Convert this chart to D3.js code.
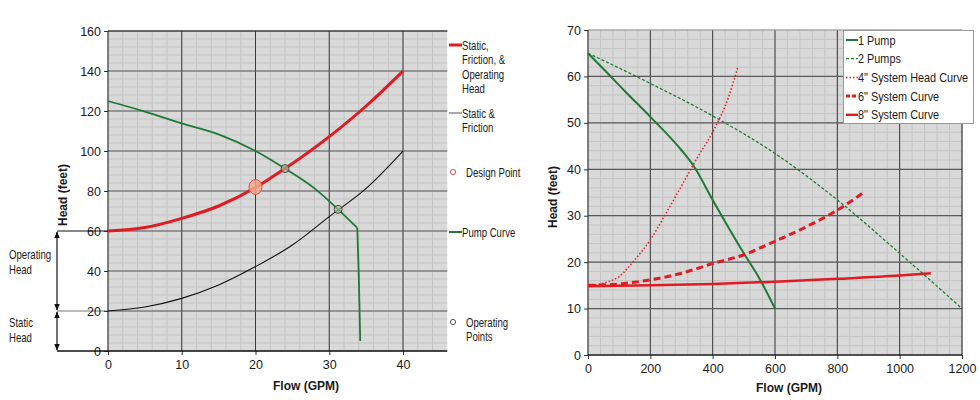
<!DOCTYPE html>
<html>
<head>
<meta charset="utf-8">
<script src="https://cdn.jsdelivr.net/npm/d3@7"></script>
<style>
  body { margin: 0; background: #fff; }
  svg text { font-family: 'Liberation Sans', Arial, sans-serif; fill: #1a1a1a; }
</style>
</head>
<body>
<script>
// ---- left chart data (flow GPM, head ft) ----
const leftXTicks = [0, 10, 20, 30, 40]
const leftYTicks = [0, 20, 40, 60, 80, 100, 120, 140, 160]
const totalHeadCurve = [[0, 60], [5, 61.7], [10, 66.3], [15, 72.5], [20, 81.7], [24, 91.2], [30, 107.2], [35, 122.5], [40, 140]]
const staticFrictionCurve = [[0, 20], [5, 22], [10, 26.3], [15, 33], [20, 42.2], [25, 53], [30, 67.2], [35, 81.3], [40, 100]]
const pumpCurve = [[0, 125], [5, 119.7], [10, 113.8], [15, 108.3], [20, 100], [24, 91.2], [28, 81.3], [31.2, 70.8], [33.8, 61.5], [34.0, 40], [34.2, 5]]
const designPoint = [[20, 82]]
const operatingPoints = [[24, 91.2], [31.2, 70.8]]
const leftLegend = [
  { type: 'line', color: '#e11b22', width: 3, lines: ['Static,', 'Friction, &', 'Operating', 'Head'] },
  { type: 'line', color: '#555', width: 1, lines: ['Static &', 'Friction'] },
  { type: 'dot', color: '#e04848', lines: ['Design Point'] },
  { type: 'line', color: '#1e7a34', width: 2, lines: ['Pump Curve'] },
  { type: 'dot', color: '#555', lines: ['Operating', 'Points'] }
]

// ---- right chart data ----
const rightXTicks = [0, 200, 400, 600, 800, 1000, 1200]
const rightYTicks = [0, 10, 20, 30, 40, 50, 60, 70]
const onePump = [[0, 65], [60, 60.9], [120, 56.7], [200, 51.3], [300, 44.1], [340, 40.6], [400, 33.4], [500, 21.9], [550, 16.5], [600, 10]]
const twoPumps = [[0, 65], [200, 58.5], [400, 51.5], [600, 43.4], [800, 33.4], [1000, 21.9], [1200, 10]]
const fourInch = [[0, 15], [50, 15.5], [100, 16.9], [150, 20.5], [200, 24.8], [250, 30.5], [300, 36.4], [350, 42.4], [400, 48], [450, 55.4], [480, 61.8]]
const sixInch = [[0, 15], [100, 15.3], [200, 16.2], [300, 17.6], [400, 19.7], [500, 21.6], [600, 24.5], [700, 27.6], [800, 31.2], [880, 34.8]]
const eightInch = [[0, 14.8], [200, 15], [400, 15.3], [600, 15.8], [800, 16.4], [1000, 17.1], [1100, 17.6]]
const rightSeries = [
  { name: '1 Pump', data: onePump, color: '#1e7a34', width: 2, dash: null },
  { name: '2 Pumps', data: twoPumps, color: '#1e7a34', width: 1.3, dash: '3,2' },
  { name: '4" System Head Curve', data: fourInch, color: '#e11b22', width: 1.5, dash: '1.5,2' },
  { name: '6" System Curve', data: sixInch, color: '#e11b22', width: 3, dash: '7,4' },
  { name: '8" System Curve', data: eightInch, color: '#e11b22', width: 2.5, dash: null }
]

const W = 980, H = 400
const svg = d3.select('body').append('svg').attr('width', W).attr('height', H)

function drawGrid(g, x, y, xMinor, yMinor, xMajor, yMajor) {
  const [x0, x1] = x.range(), [y0, y1] = y.range()
  g.append('rect').attr('x', x0).attr('y', y1).attr('width', x1 - x0).attr('height', y0 - y1).attr('fill', '#d9d9d9')
  g.selectAll('.vmin').data(xMinor).enter().append('line')
    .attr('x1', d => x(d)).attr('x2', d => x(d)).attr('y1', y0).attr('y2', y1)
    .attr('stroke', '#c4c4c4').attr('stroke-width', 1)
  g.selectAll('.hmin').data(yMinor).enter().append('line')
    .attr('y1', d => y(d)).attr('y2', d => y(d)).attr('x1', x0).attr('x2', x1)
    .attr('stroke', '#c4c4c4').attr('stroke-width', 1)
  g.selectAll('.vmaj').data(xMajor).enter().append('line')
    .attr('x1', d => x(d)).attr('x2', d => x(d)).attr('y1', y0).attr('y2', y1)
    .attr('stroke', '#3a3a3a').attr('stroke-width', 1)
  g.selectAll('.hmaj').data(yMajor).enter().append('line')
    .attr('y1', d => y(d)).attr('y2', d => y(d)).attr('x1', x0).attr('x2', x1)
    .attr('stroke', '#5a5a5a').attr('stroke-width', 1.2)
}

function axisStyle(g) {
  g.select('.domain').remove()
  g.selectAll('line').attr('stroke', '#333')
  g.selectAll('text').style('font-size', '12.5px').attr('fill', '#1a1a1a')
}

// condensed-looking text: scale glyphs horizontally
function narrowText(g, x, y, t, size, sx) {
  return g.append('text').attr('transform', `translate(${x},${y}) scale(${sx},1)`)
    .style('font-size', size + 'px').text(t)
}

// ================= LEFT CHART =================
const xL = d3.scaleLinear().domain([0, 46]).range([108, 108 + 46 * 7.375])
const yL = d3.scaleLinear().domain([0, 160]).range([351, 31])
const left = svg.append('g')

drawGrid(left, xL, yL,
  d3.range(0, 46, 2), d3.range(0, 161, 4),
  leftXTicks.slice(1), leftYTicks.slice(1))

// extension lines for annotations
const extX = 57
;[60, 20].forEach(v => {
  left.append('line').attr('x1', extX).attr('x2', xL(0)).attr('y1', yL(v)).attr('y2', yL(v))
    .attr('stroke', v === 60 ? '#111' : '#777').attr('stroke-width', 1)
})

// axes
left.append('g').attr('transform', `translate(${xL(0)},0)`)
  .call(d3.axisLeft(yL).tickValues(leftYTicks).tickSize(4).tickPadding(3)).call(axisStyle)
left.append('g').attr('transform', `translate(0,${yL(0)})`)
  .call(d3.axisBottom(xL).tickValues(leftXTicks).tickSize(4).tickPadding(5)).call(axisStyle)
left.append('line').attr('x1', xL(0)).attr('x2', xL(0)).attr('y1', yL(0)).attr('y2', yL(160)).attr('stroke', '#222')
left.append('line').attr('x1', extX).attr('x2', xL.range()[1]).attr('y1', yL(0)).attr('y2', yL(0)).attr('stroke', '#111').attr('stroke-width', 1.3)
left.append('line').attr('x1', xL(0)).attr('x2', xL.range()[1]).attr('y1', yL(160)).attr('y2', yL(160)).attr('stroke', '#333')

// arrows
const defs = svg.append('defs')
defs.append('marker').attr('id', 'arr').attr('viewBox', '0 0 10 10').attr('refX', 9).attr('refY', 5)
  .attr('markerWidth', 6).attr('markerHeight', 7).attr('orient', 'auto-start-reverse')
  .append('path').attr('d', 'M0,1 L10,5 L0,9 z').attr('fill', '#111')
;[[60, 20], [20, 0]].forEach(([a, b]) => {
  left.append('line').attr('x1', extX).attr('x2', extX).attr('y1', yL(a) + 1).attr('y2', yL(b) - 1)
    .attr('stroke', '#111').attr('stroke-width', 1.2)
    .attr('marker-start', 'url(#arr)').attr('marker-end', 'url(#arr)')
})
;[['Operating', 259], ['Head', 274], ['Static', 327], ['Head', 342]].forEach(([t, yy]) => {
  narrowText(left, 9, yy, t, 12, 0.8)
})

// curves
const lineL = d3.line().x(d => xL(d[0])).y(d => yL(d[1])).curve(d3.curveMonotoneX)
left.append('path').datum(staticFrictionCurve).attr('d', lineL).attr('fill', 'none').attr('stroke', '#111').attr('stroke-width', 1.1)
const pumpSmooth = pumpCurve.filter(d => d[0] <= 33.8)
const pumpDrop = pumpCurve.filter(d => d[0] >= 33.8)
left.append('path').datum(pumpSmooth).attr('d', lineL)
  .attr('fill', 'none').attr('stroke', '#1e7a34').attr('stroke-width', 1.8)
left.append('path').datum(pumpDrop).attr('d', d3.line().x(d => xL(d[0])).y(d => yL(d[1])).curve(d3.curveBasis))
  .attr('fill', 'none').attr('stroke', '#1e7a34').attr('stroke-width', 1.8)
left.append('path').datum(totalHeadCurve).attr('d', lineL).attr('fill', 'none').attr('stroke', '#e11b22').attr('stroke-width', 3)

left.selectAll('.dp').data(designPoint).enter().append('ellipse')
  .attr('cx', d => xL(d[0])).attr('cy', d => yL(d[1])).attr('rx', 6.5).attr('ry', 7.5)
  .attr('fill', '#f4a98c').attr('fill-opacity', 0.85).attr('stroke', '#e0504a').attr('stroke-width', 1)
left.selectAll('.op').data(operatingPoints).enter().append('circle')
  .attr('cx', d => xL(d[0])).attr('cy', d => yL(d[1])).attr('r', 4)
  .attr('fill', '#a9c79a').attr('fill-opacity', 0.6).attr('stroke', '#444').attr('stroke-width', 1)

// axis labels
left.append('text').attr('transform', 'translate(67,195) rotate(-90)').attr('text-anchor', 'middle')
  .style('font-size', '12px').style('font-weight', 'bold').text('Head (feet)')
left.append('text').attr('x', 306).attr('y', 390).attr('text-anchor', 'middle')
  .style('font-size', '12px').style('font-weight', 'bold').text('Flow (GPM)')

// legend
const legTop = [45, 113, 172, 232, 322]
leftLegend.forEach((item, i) => {
  const y0 = legTop[i]
  if (item.type === 'line') {
    left.append('line').attr('x1', 449).attr('x2', 462).attr('y1', y0).attr('y2', y0)
      .attr('stroke', item.color).attr('stroke-width', item.width)
  } else {
    left.append('circle').attr('cx', 453).attr('cy', y0).attr('r', 2.6)
      .attr('fill', 'none').attr('stroke', item.color).attr('stroke-width', 1)
  }
  item.lines.forEach((t, j) => {
    narrowText(left, item.type === 'line' ? 462 : 466, y0 + 4.5 + j * 14.5, t, 12.3, 0.78)
  })
})

// ================= RIGHT CHART =================
const xR = d3.scaleLinear().domain([0, 1200]).range([588, 962])
const yR = d3.scaleLinear().domain([0, 70]).range([355, 30])
const right = svg.append('g')

drawGrid(right, xR, yR,
  d3.range(0, 1201, 40), d3.range(0, 71, 2),
  rightXTicks.slice(1, -1), rightYTicks.slice(1, -1))

right.append('g').attr('transform', `translate(${xR(0)},0)`)
  .call(d3.axisLeft(yR).tickValues(rightYTicks).tickSize(4).tickPadding(3)).call(axisStyle)
right.append('g').attr('transform', `translate(0,${yR(0)})`)
  .call(d3.axisBottom(xR).tickValues(rightXTicks).tickFormat(d3.format('d')).tickSize(4).tickPadding(5)).call(axisStyle)
right.append('line').attr('x1', xR(0)).attr('x2', xR(1200)).attr('y1', yR(70)).attr('y2', yR(70)).attr('stroke', '#999')
right.append('line').attr('x1', xR(0)).attr('x2', xR(0)).attr('y1', yR(0)).attr('y2', yR(70)).attr('stroke', '#222')
right.append('line').attr('x1', xR(1200)).attr('x2', xR(1200)).attr('y1', yR(0)).attr('y2', yR(70)).attr('stroke', '#222')
right.append('line').attr('x1', xR(0)).attr('x2', xR(1200)).attr('y1', yR(0)).attr('y2', yR(0)).attr('stroke', '#222').attr('stroke-width', 1.3)

const lineR = d3.line().x(d => xR(d[0])).y(d => yR(d[1])).curve(d3.curveMonotoneX)
rightSeries.forEach(s => {
  right.append('path').datum(s.data).attr('d', lineR).attr('fill', 'none')
    .attr('stroke', s.color).attr('stroke-width', s.width)
    .attr('stroke-dasharray', s.dash)
})

right.append('text').attr('transform', 'translate(557,197) rotate(-90)').attr('text-anchor', 'middle')
  .style('font-size', '12px').style('font-weight', 'bold').text('Head (feet)')
right.append('text').attr('x', 789).attr('y', 392).attr('text-anchor', 'middle')
  .style('font-size', '12px').style('font-weight', 'bold').text('Flow (GPM)')

// legend box
const lg = right.append('g')
lg.append('rect').attr('x', 843.5).attr('y', 30.5).attr('width', 130).attr('height', 93)
  .attr('fill', '#fff').attr('stroke', '#999')
rightSeries.forEach((s, i) => {
  const yy = 40 + i * 18.7
  lg.append('line').attr('x1', 846).attr('x2', 858).attr('y1', yy).attr('y2', yy)
    .attr('stroke', s.color).attr('stroke-width', s.width).attr('stroke-dasharray', s.dash === '7,4' ? '4,2' : s.dash)
  narrowText(lg, 858, yy + 4.5, s.name, 12.5, 0.87)
})
</script>
</body>
</html>
